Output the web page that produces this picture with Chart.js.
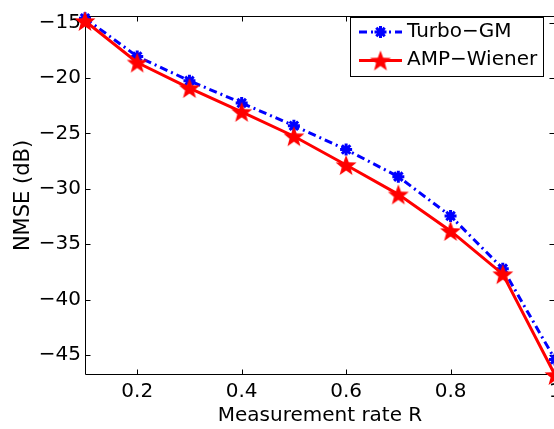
<!DOCTYPE html>
<html>
<head>
<meta charset="utf-8">
<script src="https://cdn.jsdelivr.net/npm/chart.js@4/dist/chart.umd.min.js"></script>
<style>
  html, body { margin: 0; padding: 0; background: #fff; }
  #wrap { width: 554px; height: 429px; overflow: hidden; }
  canvas { display: block; }
</style>
</head>
<body>
<div id="wrap"><canvas id="chart" width="600" height="429"></canvas></div>
<script>
// NMSE (dB) against measurement rate R

const rates = [0.1, 0.2, 0.3, 0.4, 0.5, 0.6, 0.7, 0.8, 0.9, 1.0];
const turboGM = [-14.6, -18.05, -20.25, -22.25, -24.3, -26.45, -28.9, -32.45, -37.2, -45.4];
const ampWiener = [-14.85, -18.6, -20.9, -23.05, -25.25, -27.85, -30.5, -33.8, -37.7, -46.8];

const xTicks = [0.2, 0.4, 0.6, 0.8, 1];
const yTicks = [-45, -40, -35, -30, -25, -20, -15];

const FONT = "'DejaVu Sans', sans-serif";
const BLUE = "#0000ff";
const RED = "#ff0000";

function minus(v) {
  return v < 0 ? "\u2212" + Math.abs(v) : String(v);
}

// filled five-point star, used as the AMP-Wiener marker
function makePentagram(r, color) {
  const size = Math.ceil(r * 2 + 2);
  const c = document.createElement("canvas");
  c.width = c.height = size;
  const g = c.getContext("2d");
  g.translate(size / 2, size / 2 + 1);
  g.beginPath();
  for (let i = 0; i < 10; i++) {
    const rad = i % 2 === 0 ? r : r * 0.42;
    const a = -Math.PI / 2 + i * Math.PI / 5;
    g.lineTo(rad * Math.cos(a), rad * Math.sin(a));
  }
  g.closePath();
  g.fillStyle = color;
  g.fill();
  return c;
}
const starImg = makePentagram(11, RED);

function drawAsterisk(ctx, cx, cy, r) {
  ctx.save();
  ctx.strokeStyle = BLUE;
  ctx.lineWidth = 3;
  ctx.setLineDash([]);
  ctx.beginPath();
  for (let i = 0; i < 4; i++) {
    const a = i * Math.PI / 4;
    ctx.moveTo(cx - r * Math.cos(a), cy - r * Math.sin(a));
    ctx.lineTo(cx + r * Math.cos(a), cy + r * Math.sin(a));
  }
  ctx.stroke();
  ctx.restore();
}

// matlab style box with inward ticks on all sides
const boxPlugin = {
  id: "box",
  beforeDatasetsDraw(chart) {
    const { ctx, chartArea: a, scales: { x, y } } = chart;
    const L = Math.round(a.left) + 0.5, R = Math.round(a.right) - 0.5;
    const T = Math.round(a.top) + 0.5, B = Math.round(a.bottom) - 0.5;
    ctx.save();
    ctx.strokeStyle = "#000";
    ctx.lineWidth = 1;
    ctx.beginPath();
    ctx.rect(L, T, R - L, B - T);
    xTicks.forEach(v => {
      const px = Math.round(x.getPixelForValue(v)) + 0.5;
      ctx.moveTo(px, B); ctx.lineTo(px, B - 5);
      ctx.moveTo(px, T); ctx.lineTo(px, T + 5);
    });
    yTicks.forEach(v => {
      const py = Math.round(y.getPixelForValue(v)) + 0.5;
      ctx.moveTo(L, py); ctx.lineTo(L + 5, py);
      ctx.moveTo(R, py); ctx.lineTo(R - 5, py);
    });
    ctx.stroke();
    ctx.restore();
  },
  afterDraw(chart) {
    const ctx = chart.ctx;
    const bx = 350.5, by = 17.5, bw = 193, bh = 59;
    ctx.save();
    ctx.fillStyle = "#fff";
    ctx.fillRect(bx, by, bw, bh);
    ctx.strokeStyle = "#000";
    ctx.lineWidth = 1;
    ctx.strokeRect(bx, by, bw, bh);

    // Turbo-GM entry
    ctx.strokeStyle = BLUE;
    ctx.lineWidth = 3;
    ctx.setLineDash([8, 4, 2, 4]);
    ctx.beginPath();
    ctx.moveTo(359, 32); ctx.lineTo(402, 32);
    ctx.stroke();
    drawAsterisk(ctx, 380.5, 32, 6);

    // AMP-Wiener entry
    ctx.strokeStyle = RED;
    ctx.setLineDash([]);
    ctx.beginPath();
    ctx.moveTo(359, 60.5); ctx.lineTo(402, 60.5);
    ctx.stroke();
    ctx.drawImage(starImg, 380.5 - starImg.width / 2, 60.5 - starImg.height / 2);

    ctx.fillStyle = "#000";
    ctx.font = "20px " + FONT;
    ctx.textAlign = "left";
    ctx.textBaseline = "middle";
    ctx.fillText("Turbo\u2212GM", 407, 32);
    ctx.fillText("AMP\u2212Wiener", 407, 60);
    ctx.restore();
  }
};

Chart.defaults.color = "#000";
Chart.defaults.font.family = FONT;
Chart.defaults.font.size = 20;

new Chart(document.getElementById("chart"), {
  type: "line",
  data: {
    datasets: [
      {
        label: "Turbo-GM",
        data: rates.map((r, i) => ({ x: r, y: turboGM[i] })),
        borderColor: BLUE,
        backgroundColor: BLUE,
        borderWidth: 3,
        borderDash: [8, 4, 2, 4],
        pointStyle: "star",
        pointRadius: 6,
        pointBorderWidth: 3,
        pointBorderColor: BLUE,
        tension: 0,
        clip: false,
        order: 2,
      },
      {
        label: "AMP-Wiener",
        data: rates.map((r, i) => ({ x: r, y: ampWiener[i] })),
        borderColor: RED,
        backgroundColor: RED,
        borderWidth: 3,
        pointStyle: starImg,
        tension: 0,
        clip: false,
        order: 1,
      }
    ]
  },
  options: {
    responsive: false,
    animation: false,
    devicePixelRatio: 1,
    layout: { padding: { top: 9, right: 45, left: 0, bottom: 0 } },
    plugins: { legend: { display: false }, tooltip: { enabled: false } },
    scales: {
      x: {
        type: "linear",
        min: 0.1,
        max: 1.0,
        grid: { display: false, drawTicks: false },
        border: { display: false },
        afterBuildTicks: s => { s.ticks = xTicks.map(v => ({ value: v })); },
        afterFit: s => { s.height = 54; },
        ticks: { padding: 5, maxRotation: 0, callback: v => String(v) },
        title: { display: true, text: "Measurement rate R", padding: { top: 0, bottom: 1 } }
      },
      y: {
        min: -46.8,
        max: -14.4,
        grid: { display: false, drawTicks: false },
        border: { display: false },
        afterBuildTicks: s => { s.ticks = yTicks.map(v => ({ value: v })); },
        afterFit: s => { s.width = 85; },
        ticks: { padding: 4, callback: v => minus(v) },
        title: { display: true, text: "NMSE (dB)", font: { size: 21 }, padding: { top: 11, bottom: 0 } }
      }
    }
  },
  plugins: [boxPlugin]
});
</script>
</body>
</html>
